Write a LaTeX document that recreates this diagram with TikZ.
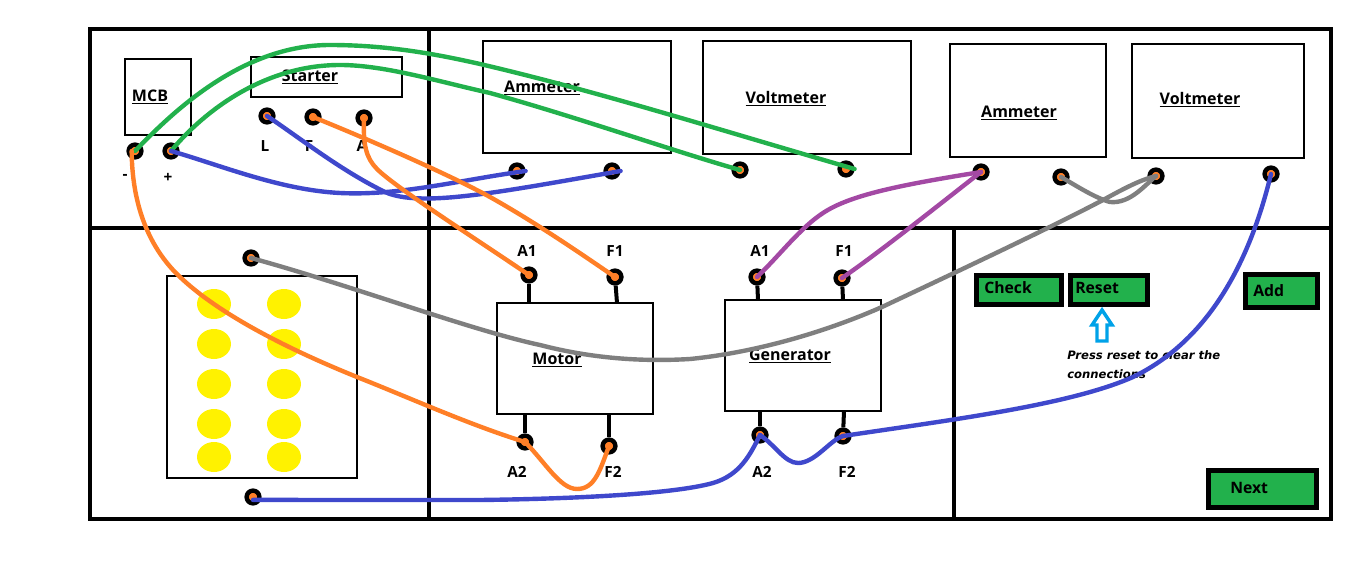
\documentclass[tikz,border=0pt]{standalone}
\usepackage{fontspec}
\setmainfont{Open Sans}
\newfontfamily\pressfont{DejaVu Sans}
\definecolor{wgreen}{HTML}{22B14C}
\definecolor{worange}{HTML}{FF7F27}
\definecolor{wblue}{HTML}{3F48CC}
\definecolor{wpurple}{HTML}{A349A4}
\definecolor{wgray}{HTML}{7F7F7F}
\definecolor{wyellow}{HTML}{FFF200}
\definecolor{wcyan}{HTML}{00A2E8}
\tikzset{
  pix/.style={x=0.75pt,y=-0.75pt},
  panel/.style={line width=3.1pt,draw=black},
  boxrect/.style={draw=black,line width=2.2pt},
  term/.style={circle,draw=black,fill=worange,line width=3.3pt,inner sep=0pt,minimum size=9.6pt},
  stub/.style={line width=3pt,draw=black},
  lab/.style={font=\bfseries\fontsize{12pt}{14pt}\selectfont,inner sep=0pt,text=black},
  small/.style={font=\bfseries\fontsize{11.5pt}{13pt}\selectfont,inner sep=0pt,text=black},
  btnlab/.style={font=\bfseries\fontsize{11.8pt}{13pt}\selectfont,inner sep=0pt,text=black,anchor=west},
  btn/.style={draw=black,fill=wgreen,line width=3.6pt,inner sep=0pt},
  lamp/.style={fill=wyellow,draw=none},
  wire/.style={line width=3.3pt,line cap=round},
}
\begin{document}
\begin{tikzpicture}[pix]
\useasboundingbox (0,0) rectangle (1360,563);
% panels
\draw[panel,line width=3.7pt] (90,29) rectangle (1331,519);
\draw[panel] (90,228) -- (1331,228);
\draw[panel] (429,29) -- (429,519);
\draw[panel] (954,228) -- (954,519);
% boxes
\draw[boxrect] (125,59) rectangle (191,135);
\draw[boxrect] (251,57) rectangle (402,97);
\draw[boxrect] (483,41) rectangle (671,153);
\draw[boxrect] (703,41) rectangle (911,154);
\draw[boxrect] (950,44) rectangle (1106,157);
\draw[boxrect] (1132,44) rectangle (1304,158);
\draw[boxrect] (167,276) rectangle (357,478);
\draw[boxrect] (497,303) rectangle (653,414);
\draw[boxrect] (725,300) rectangle (881,411);
% lamps
\foreach \yy in {304,344,384,424,457}{
  \fill[lamp] (214,\yy) ellipse [x radius=17,y radius=15];
  \fill[lamp] (284,\yy) ellipse [x radius=17,y radius=15];
}
% buttons
\node[btn,minimum width=63.75pt,minimum height=21.75pt] (check) at (1019,290) {};
\node[btn,minimum width=57.75pt,minimum height=21.75pt] (reset) at (1109,290) {};
\node[btn,minimum width=54pt,minimum height=24.75pt] (add) at (1281.5,291) {};
\node[btn,minimum width=81pt,minimum height=27.75pt] (next) at (1262.5,489) {};
% reset arrow
\draw[wcyan,line width=2.6pt,line join=miter,fill=white] (1102,310) -- (1112,325) -- (1107,325) -- (1107,341) -- (1097,341) -- (1097,325) -- (1092,325) -- cycle;
% labels
\node[lab] (tmcb) at (150,97) {\underline{MCB}};
\node[lab] (tstarter) at (310,77) {\underline{Starter}};
\node[lab] (tamm1) at (542,88) {\underline{Ammeter}};
\node[lab] (tvolt1) at (786,99) {\underline{Voltmeter}};
\node[lab] (tamm2) at (1019,113) {\underline{Ammeter}};
\node[lab] (tvolt2) at (1200,100) {\underline{Voltmeter}};
\node[lab] (tmotor) at (557,360) {\underline{Motor}};
\node[lab] (tgen) at (790,356) {\underline{Generator}};
\node[small] (lminus) at (125,177) {-};
\node[small] (lplus) at (168,178) {+};
\node[small] (lL) at (265,146) {L};
\node[small] (lF) at (309,146) {F};
\node[small] (lA) at (362,146) {A};
\node[small] (ma1) at (527,251) {A1};
\node[small] (mf1) at (615,251) {F1};
\node[small] (ga1) at (760,251) {A1};
\node[small] (gf1) at (844,251) {F1};
\node[small] (ma2) at (517,472) {A2};
\node[small] (mf2) at (613,472) {F2};
\node[small] (ga2) at (762,472) {A2};
\node[small] (gf2) at (847,472) {F2};
\node[btnlab] (tcheck) at (984,288) {Check};
\node[btnlab] (treset) at (1075,288) {Reset};
\node[btnlab] (tadd) at (1253,291) {Add};
\node[btnlab] (tnext) at (1230,488) {Next};
\node[inner sep=0pt,text=black,font=\pressfont\bfseries\itshape\fontsize{8.7pt}{14.2pt}\selectfont,anchor=north west,align=left] (tpress) at (1067,350) {Press reset to clear the\\connections};
% terminals
\foreach \nm/\px/\py in {mn/135/151,mp/171/151,sl/267/116,sf/313/117,sa/364/118,
  a1a/517/171,a1b/612/171,v1a/740/170,v1b/846/169,a2a/981/172,a2b/1061/177,v2a/1156/176,v2b/1271/174,
  fa/251/258,fb/253/497,moa1/529/275,mof1/615/277,moa2/525/442,mof2/609/446,
  gea1/757/277,gef1/842/278,gea2/760/435,gef2/843/436}{
  \node[term] (\nm) at (\px,\py) {};
}
% stubs
\draw[stub] (moa1) -- (529,303);
\draw[stub] (mof1) -- (617,303);
\draw[stub] (moa2) -- (525,414);
\draw[stub] (mof2) -- (609,414);
\draw[stub] (gea1) -- (758,300);
\draw[stub] (gef1) -- (843,300);
\draw[stub] (gea2) -- (760,411);
\draw[stub] (gef2) -- (844,411);
% wires
\draw[wire,wgreen] (mn.center) .. controls (170,115) and (240,45) .. (330,45) .. controls (390,45) and (440,55) .. (480,64) .. controls (600,92) and (720,130) .. (v1b.east);
\draw[wire,wgreen] (mp.center) .. controls (205,110) and (265,65) .. (340,65) .. controls (385,65) and (440,82) .. (490,93) .. controls (580,118) and (670,150) .. (v1a.center);
\draw[wire,wblue] (mp.center) .. controls (220,165) and (280,190) .. (340,193) .. controls (400,196) and (460,180) .. (a1a.east);
\draw[wire,wblue] (sl.center) .. controls (300,138) and (340,170) .. (385,192) .. controls (420,208) and (500,192) .. (a1b.east);
\draw[wire,worange] (sf.center) .. controls (370,140) and (450,175) .. (490,197) .. controls (540,225) and (590,260) .. (mof1.center);
\draw[wire,worange] (sa.center) .. controls (363,145) and (366,158) .. (377,169) .. controls (395,187) and (470,235) .. (moa1.center);
\draw[wire,worange] ([xshift=-2.5pt]mn.center) .. controls (132,200) and (146,245) .. (180,277) .. controls (220,315) and (290,350) .. (357,377) .. controls (410,398) and (470,425) .. (moa2.center);
\draw[wire,worange] (moa2.center) .. controls (545,462) and (560,489) .. (577,489) .. controls (595,489) and (600,470) .. (mof2.center);
\draw[wire,wpurple] (gea1.center) .. controls (780,255) and (800,228) .. (823,213) .. controls (850,195) and (900,185) .. (a2a.center);
\draw[wire,wpurple] (gef1.center) .. controls (880,252) and (945,200) .. (a2a.center);
\draw[wire,wgray] (a2b.center) .. controls (1075,185) and (1095,198) .. (1110,202) .. controls (1130,204) and (1145,185) .. (v2a.center);
\draw[wire,wgray] (fa.center) .. controls (350,285) and (470,330) .. (540,345) .. controls (590,358) and (640,362) .. (690,359) .. controls (760,352) and (830,330) .. (882,307) .. controls (950,275) and (1050,228) .. (1103,200) .. controls (1125,188) and (1140,180) .. (v2a.center);
\draw[wire,wblue] ([yshift=-2.2pt]fb.center) -- (480,500) .. controls (560,499) and (670,495) .. (713,483) .. controls (740,475) and (750,455) .. (gea2.center);
\draw[wire,wblue] (gea2.center) .. controls (775,445) and (785,463) .. (798,463) .. controls (815,463) and (830,440) .. (gef2.center);
\draw[wire,wblue] (gef2.center) .. controls (950,420) and (1070,405) .. (1133,377) .. controls (1220,335) and (1255,240) .. (v2b.center);
\end{tikzpicture}
\end{document}
